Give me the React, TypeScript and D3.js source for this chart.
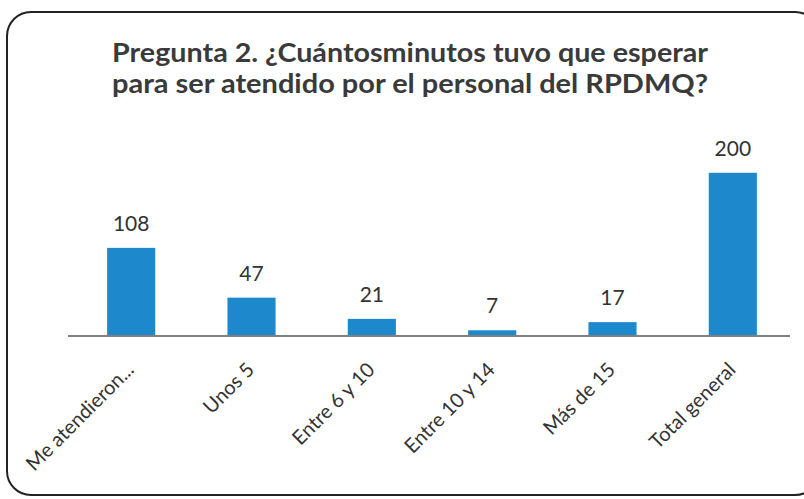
import React from "react";
import * as d3 from "d3";

const titleLines = [
  "Pregunta 2. ¿Cuántosminutos tuvo que esperar",
  "para ser atendido por el personal del RPDMQ?",
];
const categories = [
  "Me atendieron...",
  "Unos 5",
  "Entre 6 y 10",
  "Entre 10 y 14",
  "Más de 15",
  "Total general",
];
const values = [108, 47, 21, 7, 17, 200];

const W = 804;
const H = 499;
const FONT = "Lato, 'Open Sans', sans-serif";

export default function App() {
  const x = d3
    .scaleBand<string>()
    .domain(categories)
    .range([71, 793])
    .paddingInner(0.6)
    .paddingOuter(0.3);
  const y = d3.scaleLinear().domain([0, 250]).range([336, 132]);
  const base = y(0);

  return (
    <svg
      width={W}
      height={H}
      style={{ position: "absolute", left: 0, top: 0, background: "#fff" }}
    >
      <rect
        x={7}
        y={12}
        width={812}
        height={483}
        rx={24}
        ry={24}
        fill="#fff"
        stroke="#222"
        strokeWidth={2}
      />
      {titleLines.map((t, i) => (
        <text
          key={i}
          x={410}
          y={62 + i * 31}
          textAnchor="middle"
          fontFamily={FONT}
          fontWeight={700}
          fontSize={27}
          fill="#3a3a3a"
          textLength={596}
          lengthAdjust="spacingAndGlyphs"
        >
          {t}
        </text>
      ))}
      {categories.map((c, i) => {
        const bx = x(c)!;
        const bw = x.bandwidth();
        const top = y(values[i]);
        return (
          <g key={c}>
            <rect x={bx} y={top} width={bw} height={base - top} fill="#1e88cc" />
            <text
              x={bx + bw / 2}
              y={top - 17}
              textAnchor="middle"
              fontFamily={FONT}
              fontSize={21}
              fill="#333"
            >
              {values[i]}
            </text>
          </g>
        );
      })}
      <line x1={68} x2={790} y1={base} y2={base} stroke="#808080" strokeWidth={2} />
      {categories.map((c) => {
        const cx = x(c)! + x.bandwidth() / 2;
        return (
          <text
            key={"l" + c}
            transform={`translate(${cx + 4},${base + 35}) rotate(-45)`}
            textAnchor="end"
            fontFamily={FONT}
            fontSize={20}
            fill="#333"
          >
            {c}
          </text>
        );
      })}
    </svg>
  );
}
